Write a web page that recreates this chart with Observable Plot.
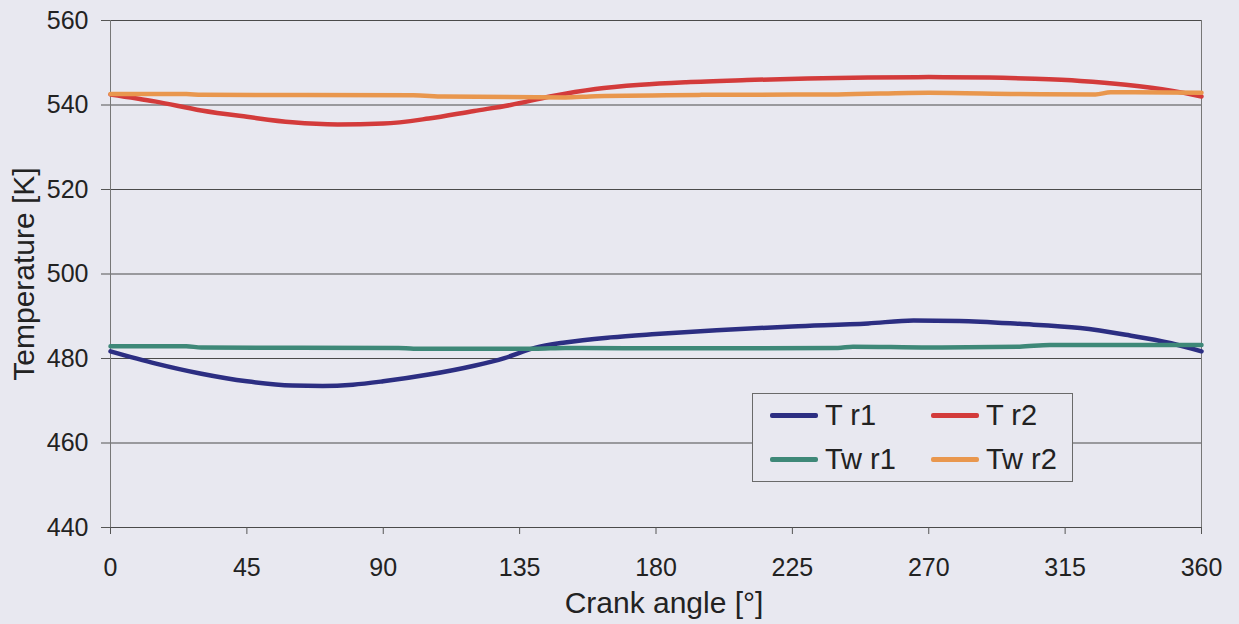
<!DOCTYPE html>
<html>
<head>
<meta charset="utf-8">
<script src="https://cdn.jsdelivr.net/npm/d3@7"></script>
<script src="https://cdn.jsdelivr.net/npm/@observablehq/plot@0.6"></script>
<style>
  html, body { margin: 0; padding: 0; background: #e8e8f0; }
  body { font-family: "Liberation Sans", Arial, sans-serif; color: #222; }
  #wrap { position: relative; width: 1239px; height: 624px; overflow: hidden; }
  #legend {
    position: absolute; left: 752px; top: 393px; width: 321px; height: 89px;
    box-sizing: border-box; border: 1px solid #6a6a6a; background: #e8e8f0;
    display: grid; grid-template-columns: 161px 150px; grid-template-rows: 44px 44px;
    padding: 0 0 0 17px; align-content: center; font-size: 29px;
  }
  .item { display: flex; align-items: center; white-space: nowrap; }
  .sw { display: inline-block; width: 48px; height: 5px; border-radius: 2px; margin-right: 7px; }
</style>
</head>
<body>
<div id="wrap"><div id="chart"></div><div id="legend"></div></div>
<script>
// ---- Data ----
const seriesNames = ["T r1", "T r2", "Tw r1", "Tw r2"];
const seriesColors = ["#2c2e82", "#d33b3b", "#3e8878", "#e9974e"];

const xTicks = [0, 45, 90, 135, 180, 225, 270, 315, 360];
const yTicks = [440, 460, 480, 500, 520, 540, 560];

// T r1 (gas temperature, regenerator section 1)
const angleTr1 = [0, 15, 30, 45, 60, 70, 80, 90, 105, 120, 130, 140, 150, 165, 180, 200, 225, 250, 265, 280, 300, 320, 335, 350, 360];
const tempTr1  = [481.7, 478.8, 476.4, 474.6, 473.6, 473.5, 473.8, 474.6, 476.2, 478.3, 480.1, 482.5, 483.8, 485.0, 485.8, 486.7, 487.6, 488.3, 489.0, 488.9, 488.2, 487.2, 485.6, 483.6, 481.7];

// T r2 (gas temperature, regenerator section 2)
const angleTr2 = [0, 15, 30, 45, 60, 75, 90, 105, 120, 132, 145, 160, 175, 190, 210, 230, 250, 270, 290, 305, 320, 335, 350, 360];
const tempTr2  = [542.5, 540.8, 538.7, 537.2, 535.9, 535.4, 535.6, 536.8, 538.6, 540.0, 542.0, 543.8, 544.8, 545.4, 545.9, 546.3, 546.5, 546.6, 546.5, 546.2, 545.7, 544.8, 543.4, 542.0];

// Tw r1 (wall temperature, section 1)
const angleTwr1 = [0, 25, 30, 95, 100, 140, 150, 190, 240, 245, 270, 300, 310, 360];
const tempTwr1  = [482.9, 482.9, 482.6, 482.5, 482.3, 482.3, 482.5, 482.4, 482.5, 482.8, 482.6, 482.8, 483.2, 483.2];

// Tw r2 (wall temperature, section 2)
const angleTwr2 = [0, 25, 30, 100, 110, 150, 160, 195, 240, 270, 300, 325, 330, 360];
const tempTwr2  = [542.6, 542.6, 542.4, 542.3, 542.0, 541.8, 542.1, 542.4, 542.5, 542.9, 542.6, 542.5, 543.0, 542.9];

// ---- Build table ----
const angles = [angleTr1, angleTr2, angleTwr1, angleTwr2];
const temps = [tempTr1, tempTr2, tempTwr1, tempTwr2];
const rows = [];
seriesNames.forEach((name, i) => {
  angles[i].forEach((a, j) => rows.push({series: name, angle: a, temp: temps[i][j]}));
});

const font = "Liberation Sans, Arial, sans-serif";

const chart = Plot.plot({
  width: 1239,
  height: 624,
  marginLeft: 110,
  marginRight: 38,
  marginTop: 20,
  marginBottom: 97,
  style: { background: "transparent", fontFamily: font, fontSize: "25px", color: "#222", overflow: "visible" },
  x: { domain: [0, 360] },
  y: { domain: [440, 560] },
  color: { domain: seriesNames, range: seriesColors },
  marks: [
    Plot.ruleY(yTicks, { stroke: "#4a4a4a", strokeWidth: 1 }),
    Plot.ruleX([360], { stroke: "#777", strokeWidth: 1 }),
    Plot.ruleX([0], { stroke: "#777", strokeWidth: 1 }),
    Plot.axisX({ ticks: xTicks, tickSize: 7, tickPadding: 24, stroke: "#555", label: null, tickFormat: d => String(d) }),
    Plot.axisY({ ticks: yTicks, tickSize: 9, tickPadding: 13, stroke: "#555", label: null, tickFormat: d => String(d) }),
    Plot.line(rows, {
      x: "angle", y: "temp", z: "series", stroke: "series",
      strokeWidth: 4.5, curve: "monotone-x", strokeLinecap: "round", strokeLinejoin: "round"
    }),
    Plot.text(["Crank angle [°]"], { frameAnchor: "bottom", lineAnchor: "middle", textAnchor: "middle", dx: 8, dy: 76, fontSize: 30, fill: "#222" }),
    Plot.text(["Temperature [K]"], { frameAnchor: "left", lineAnchor: "middle", textAnchor: "middle", dx: -86, rotate: -90, fontSize: 30, fill: "#222" })
  ]
});
document.getElementById("chart").appendChild(chart);

// ---- Legend (inside the plot area, lower right) ----
const legend = document.getElementById("legend");
seriesNames.forEach((name, i) => {
  const item = document.createElement("div");
  item.className = "item";
  const sw = document.createElement("span");
  sw.className = "sw";
  sw.style.background = seriesColors[i];
  const label = document.createElement("span");
  label.textContent = name;
  item.appendChild(sw);
  item.appendChild(label);
  legend.appendChild(item);
});
</script>
</body>
</html>
